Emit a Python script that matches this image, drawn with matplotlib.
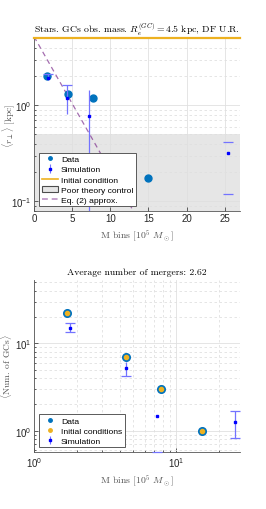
import matplotlib
matplotlib.use("Agg")
import matplotlib.pyplot as plt
import numpy as np
from matplotlib.patches import Patch
from matplotlib.lines import Line2D
from matplotlib.ticker import NullFormatter

# ---------------- data ----------------
# top panel: <r_perp> [kpc] vs mass bin
data_x = [1.75, 4.5, 7.7, 15.0]
data_r = [2.0, 1.31, 1.19, 0.173]

sim_top_x = [1.85, 4.35, 7.25, 25.5]
sim_top_r = [1.95, 1.19, 0.77, 0.316]
sim_top_lo = [1.85, 0.81, 0.05, 0.118]
sim_top_hi = [2.11, 1.64, 1.45, 0.418]

init_r = 5.0
poor_theory_max = 0.5
eq2_x = [0.0, 14.0]
eq2_r = [5.2, 0.058]

# bottom panel: <Num. of GCs> vs mass bin
cnt_x = [1.7, 4.46, 7.75, 15.2]
data_n = [22.0, 7.0, 3.0, 1.0]
init_n = [22.0, 7.0, 3.0, 1.0]

sim_bot_x = [1.78, 4.44, 7.34, 25.9]
sim_bot_n = [15.1, 5.26, 1.46, 1.25]
sim_bot_lo = [13.5, 4.22, 0.57, 0.82]
sim_bot_hi = [16.9, 6.15, 1.46, 1.67]

title_top = r"Stars. GCs obs. mass. $R_e^{(GC)}=4.5$ kpc, DF U.R."
title_bot = "Average number of mergers: 2.62"
xlabel = r"M bins $[10^5\ M_\odot]$"

# ---------------- style ----------------
BLUE = "#0072BD"
ORANGE = "#EDB120"
SIMC = (0.0, 0.0, 1.0)
ERRC = (0.45, 0.45, 1.0)
PURPLE = "#7E2F8E"
TXT = "#262626"
LAB = "#555555"

plt.rcParams["font.family"] = ["Liberation Sans", "DejaVu Sans"]
plt.rcParams["font.size"] = 7

fig = plt.figure(figsize=(2.66, 5.1), dpi=100)
ax1 = fig.add_axes([0.128, 0.585, 0.774, 0.338])
ax2 = fig.add_axes([0.128, 0.111, 0.774, 0.338])

serif = dict(family="cmr10", math_fontfamily="cm")


def style_axes(ax):
    for s in ["top", "right"]:
        ax.spines[s].set_visible(False)
    for s in ["left", "bottom"]:
        ax.spines[s].set_color("#555555")
        ax.spines[s].set_linewidth(0.6)
    ax.tick_params(which="both", direction="in", colors=TXT, labelsize=7,
                   width=0.5, pad=2)
    ax.tick_params(which="major", length=3)
    ax.tick_params(which="minor", length=1.5)


def sim_errorbar(ax, x, y, lo, hi, show_lo, show_hi, show_line):
    y = np.asarray(y)
    yerr = [y - np.asarray(lo), np.asarray(hi) - y]
    eb = ax.errorbar(x, y, yerr=yerr, fmt="s", color=SIMC, ms=2,
                     ecolor=ERRC, elinewidth=0.9, capsize=3.5, capthick=0.9,
                     zorder=4)
    caplo, caphi = eb[1]
    caplo.set_markevery(show_lo)
    caphi.set_markevery(show_hi)
    lc = eb[2][0]
    lc.set_color([ERRC if s else (0, 0, 0, 0) for s in show_line])
    return eb


# ---------------- top panel ----------------
ax1.set_yscale("log")
ax1.set_xlim(0, 27)
ax1.set_ylim(0.08, init_r)
ax1.axhspan(1e-4, poor_theory_max, facecolor="0.9", edgecolor="none", zorder=0)
ax1.grid(True, which="major", color="0.88", lw=0.6, zorder=0.5)
ax1.grid(True, which="minor", axis="y", color="0.88", lw=0.6, ls=(0, (3, 3)))
ax1.set_axisbelow(True)

ax1.axhline(init_r, color=ORANGE, lw=1.6, clip_on=False, zorder=5)
ax1.plot(eq2_x, eq2_r, color=PURPLE, alpha=0.7, lw=0.9, ls=(0, (4, 3)), zorder=3)
ax1.plot(data_x, data_r, "o", color=BLUE, ms=5, zorder=3)
sim_errorbar(ax1, sim_top_x, sim_top_r, sim_top_lo, sim_top_hi,
             show_lo=[3], show_hi=[0, 1, 3], show_line=[1, 1, 1, 0])

ax1.set_xticks([0, 5, 10, 15, 20, 25])
ax1.yaxis.set_minor_formatter(NullFormatter())
style_axes(ax1)
ax1.set_title(title_top, fontsize=7, color="black", pad=4, **serif)
ax1.set_xlabel(xlabel, fontsize=7, color=LAB, labelpad=3, **serif)
ax1.set_ylabel(r"$\langle r_\perp\rangle$ [kpc]", fontsize=6.8, color=LAB, **serif)
ax1.yaxis.set_label_coords(-0.085, 0.5)

h_data = Line2D([], [], marker=".", ls="none", color=BLUE, ms=5)
h_sim = ax1.errorbar([], [], yerr=[], fmt="s", color=SIMC, ms=1.8,
                     ecolor=ERRC, elinewidth=0.8, capsize=2)
h_init = Line2D([], [], color=ORANGE, lw=1.2)
h_poor = Patch(facecolor="0.9", edgecolor="0.3", lw=0.8)
h_eq = Line2D([], [], color=PURPLE, alpha=0.45, lw=1.4, ls=(0, (3, 2)))
leg_kw = dict(loc="lower left", borderaxespad=0, fontsize=6.1,
              handlelength=2.0, handletextpad=0.3, labelspacing=0.25,
              borderpad=0.3, fancybox=False, framealpha=1, edgecolor="0.35")
leg1 = ax1.legend([h_data, h_sim, h_init, h_poor, h_eq],
                  ["Data", "Simulation", "Initial condition",
                   "Poor theory control", "Eq. (2) approx."],
                  bbox_to_anchor=(0.024, 0.026), **leg_kw)
leg1.get_frame().set_linewidth(0.7)
leg1.set_zorder(10)

# ---------------- bottom panel ----------------
ax2.set_xscale("log")
ax2.set_yscale("log")
ax2.set_xlim(1, 28)
ax2.set_ylim(0.566, 53)
ax2.grid(True, which="major", color="0.88", lw=0.6)
ax2.grid(True, which="minor", color="0.88", lw=0.6, ls=(0, (3, 3)))
ax2.set_axisbelow(True)

ax2.plot(cnt_x, data_n, "o", color=BLUE, ms=5.5, zorder=3)
ax2.plot(cnt_x, init_n, "o", color=ORANGE, ms=3, zorder=3.5)
sim_errorbar(ax2, sim_bot_x, sim_bot_n, sim_bot_lo, sim_bot_hi,
             show_lo=[0, 1, 2, 3], show_hi=[0, 3], show_line=[1, 1, 0, 1])
for cl in ax2.lines:
    cl.set_clip_on(False)

ax2.xaxis.set_minor_formatter(NullFormatter())
ax2.yaxis.set_minor_formatter(NullFormatter())
style_axes(ax2)
ax2.set_title(title_bot, fontsize=7, color="black", pad=4, **serif)
ax2.set_xlabel(xlabel, fontsize=7, color=LAB, labelpad=3, **serif)
ax2.set_ylabel(r"$\langle$Num. of GCs$\rangle$", fontsize=6.8, color=LAB, **serif)
ax2.yaxis.set_label_coords(-0.095, 0.5)

h_data2 = Line2D([], [], marker=".", ls="none", color=BLUE, ms=5)
h_init2 = Line2D([], [], marker=".", ls="none", color=ORANGE, ms=5)
leg2 = ax2.legend([h_data2, h_init2, h_sim],
                  ["Data", "Initial conditions", "Simulation"],
                  bbox_to_anchor=(0.024, 0.029), **leg_kw)
leg2.get_frame().set_linewidth(0.7)
leg2.set_zorder(10)

fig.savefig("out.png", dpi=100)
